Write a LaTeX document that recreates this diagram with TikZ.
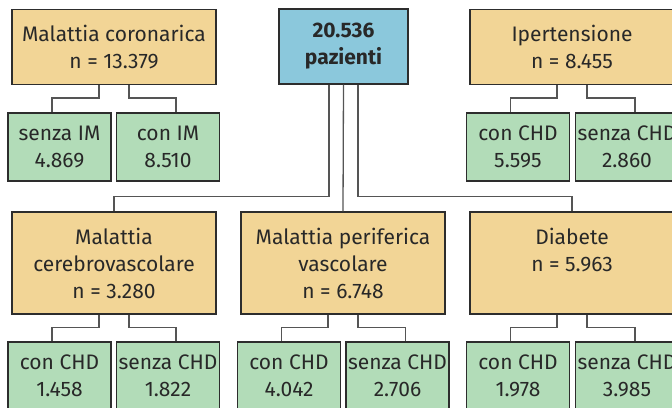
\documentclass[tikz,border=0pt]{standalone}
\usepackage{fontspec}
\setmainfont{Fira Sans}
\usetikzlibrary{calc}
\definecolor{orng}{RGB}{242,213,150}
\definecolor{grn}{RGB}{178,220,184}
\definecolor{blu}{RGB}{139,200,220}
\definecolor{edge}{RGB}{45,45,45}
\definecolor{wire}{RGB}{85,85,85}
\definecolor{ink}{RGB}{40,40,40}
\tikzset{
  box/.style={draw=edge, line width=1.1pt, inner sep=0pt, align=center, text=ink,
    font=\fontsize{21}{27}\selectfont},
  cat/.style={box, fill=orng, minimum width=204pt},
  sub/.style={box, fill=grn, minimum width=103pt, minimum height=68pt},
  wire/.style={draw=wire, line width=1.3pt}
}
\begin{document}
\begin{tikzpicture}[x=1pt,y=-1pt]
\useasboundingbox (0,0) rectangle (672,407);
% top row
\node[cat, minimum height=75pt] (cor) at (114,47) {Malattia coronarica\\n = 13.379};
\node[box, fill=blu, minimum width=129pt, minimum height=75pt, font=\fontsize{21}{27}\selectfont\bfseries] (tot) at (343.5,46.5) {20.536\\pazienti};
\node[cat, minimum height=75pt] (ipe) at (572,47) {Ipertensione\\n = 8.455};
\node[sub] (sim) at (59.5,147) {senza IM\\4.869};
\node[sub] (cim) at (168,147) {con IM\\8.510};
\node[sub] (ic) at (518,147) {con CHD\\5.595};
\node[sub] (is) at (627,147) {senza CHD\\2.860};
% second row
\node[cat, minimum height=102pt] (cer) at (114,263) {Malattia\\cerebrovascolare\\n = 3.280};
\node[cat, minimum height=102pt] (per) at (343,263) {Malattia periferica\\vascolare\\n = 6.748};
\node[cat, minimum height=102pt] (dia) at (572,263) {Diabete\\n = 5.963\\\mbox{}};
\node[sub] (cc) at (59.5,376) {con CHD\\1.458};
\node[sub] (cs) at (168,376) {senza CHD\\1.822};
\node[sub] (pc) at (289,376) {con CHD\\4.042};
\node[sub] (ps) at (397.5,376) {senza CHD\\2.706};
\node[sub] (dc) at (518,376) {con CHD\\1.978};
\node[sub] (ds) at (627,376) {senza CHD\\3.985};
% connectors
\foreach \p/\a/\b in {cor/sim/cim, ipe/ic/is, cer/cc/cs, per/pc/ps, dia/dc/ds}{
  \draw[wire] ([xshift=-15pt]\p.south) -- ++(0,13) -| ([xshift=-7.5pt]\a.north);
  \draw[wire] ([xshift=15pt]\p.south) -- ++(0,13) -| ([xshift=8pt]\b.north);
}
\draw[wire] ([xshift=-14.5pt]tot.south) |- ($(cer.north)+(0,-15)$) -- (cer.north);
\draw[wire] ([xshift=14.5pt]tot.south) |- ($(dia.north)+(0,-15)$) -- (dia.north);
\draw[wire] (tot.south) -- (per.north);
\end{tikzpicture}
\end{document}
